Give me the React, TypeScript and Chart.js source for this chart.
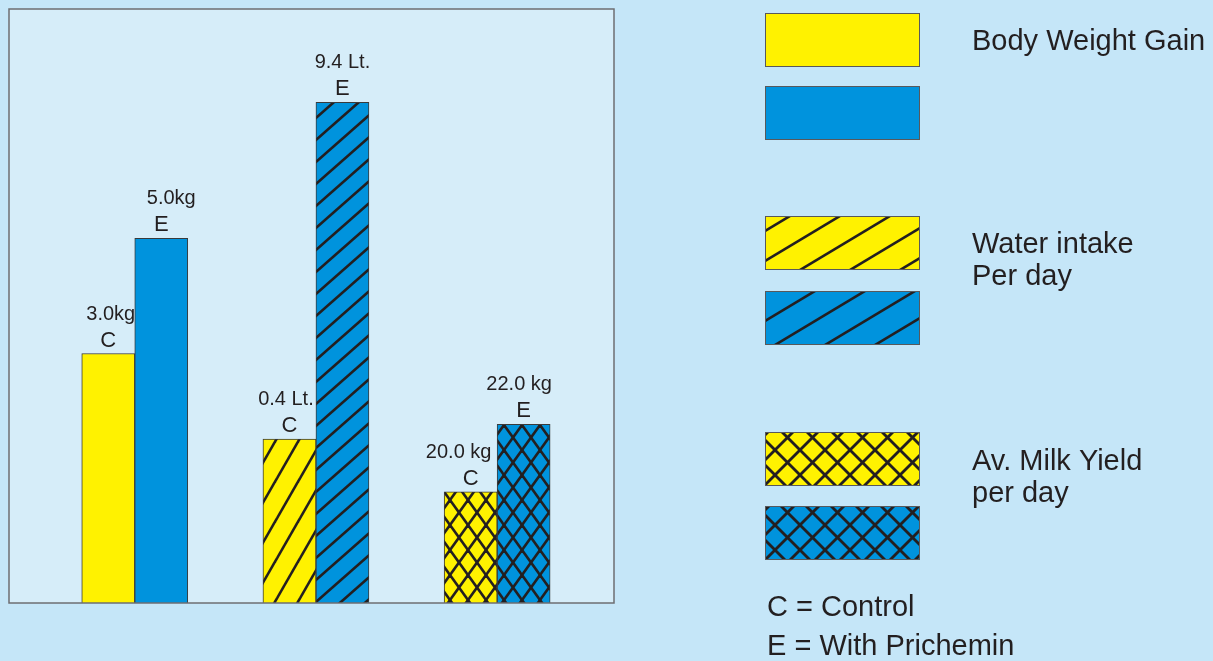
import React, { useEffect, useRef } from "react";
import { Chart, registerables } from "chart.js";

Chart.register(...registerables);

// ---- data (bar heights are the illustrative heights of the picture, in % of plot height)
const groups = ["Body Weight Gain", "Water intake", "Av. Milk Yield"];
const groupPositions = [0, 1, 2];
const controlHeights = [42.0, 27.6, 18.7];
const prichHeights = [61.4, 84.3, 30.1];
const controlValueLabels = ["3.0kg", "0.4 Lt.", "20.0 kg"];
const prichValueLabels = ["5.0kg", "9.4 Lt.", "22.0 kg"];
const seriesLetters = ["C", "E"];
const legendTexts = [["Body Weight Gain"], ["Water intake", "Per day"], ["Av. Milk Yield", "per day"]];
const keyTexts = ["C = Control", "E = With Prichemin"];

const YELLOW = "#fff200";
const BLUE = "#0093dd";
const INK = "#231f20";
const FIG_BG = "#c5e6f8";
const PLOT_BG = "#d6edf9";
const FRAME = "#6d6e71";
const FONT = "'Liberation Sans', Arial, sans-serif";

function makePattern(bg: string, w: number, h: number, cross: boolean, lw: number): CanvasPattern {
  const c = document.createElement("canvas");
  c.width = w;
  c.height = h;
  const g = c.getContext("2d")!;
  g.fillStyle = bg;
  g.fillRect(0, 0, w, h);
  g.strokeStyle = INK;
  g.lineWidth = lw;
  for (const s of [-w, 0, w]) {
    g.beginPath();
    g.moveTo(-w + s, 2 * h);
    g.lineTo(2 * w + s, -h);
    g.stroke();
    if (cross) {
      g.beginPath();
      g.moveTo(-w + s, -h);
      g.lineTo(2 * w + s, 2 * h);
      g.stroke();
    }
  }
  const ctx = document.createElement("canvas").getContext("2d")!;
  return ctx.createPattern(c, "repeat")!;
}

export default function App() {
  const ref = useRef<HTMLCanvasElement | null>(null);

  useEffect(() => {
    const canvas = ref.current;
    if (!canvas) return;

    const yHatch = makePattern(YELLOW, 23, 40, false, 2.6);
    const bHatch = makePattern(BLUE, 25, 22, false, 2.6);
    const yCross = makePattern(YELLOW, 18, 25, true, 2.6);
    const bCross = makePattern(BLUE, 18, 25, true, 2.6);
    const yLegHatch = makePattern(YELLOW, 50, 30, false, 2.6);
    const bLegHatch = makePattern(BLUE, 50, 30, false, 2.6);
    const yLegCross = makePattern(YELLOW, 25, 25, true, 2.8);
    const bLegCross = makePattern(BLUE, 25, 25, true, 2.8);

    const valueLabels = [controlValueLabels, prichValueLabels];
    const valueShift = [
      [2.5, -3.5, -12],
      [10, 0, -4.5],
    ];

    const framePlugin = {
      id: "frame",
      beforeDraw(chart: any) {
        const { ctx, chartArea: a } = chart;
        ctx.save();
        ctx.fillStyle = FIG_BG;
        ctx.fillRect(0, 0, chart.width, chart.height);
        ctx.fillStyle = PLOT_BG;
        ctx.fillRect(a.left, a.top, a.right - a.left, a.bottom - a.top);
        ctx.restore();
      },
      afterDatasetsDraw(chart: any) {
        const { ctx, chartArea: a } = chart;
        ctx.save();
        chart.data.datasets.forEach((ds: any, di: number) => {
          const meta = chart.getDatasetMeta(di);
          meta.data.forEach((el: any, i: number) => {
            ctx.fillStyle = INK;
            ctx.textAlign = "center";
            ctx.textBaseline = "alphabetic";
            ctx.font = `22px ${FONT}`;
            ctx.fillText(seriesLetters[di], el.x, el.y - 7);
            ctx.font = `20px ${FONT}`;
            ctx.fillText(valueLabels[di][i], el.x + valueShift[di][i], el.y - 34);
          });
        });
        ctx.strokeStyle = FRAME;
        ctx.lineWidth = 1.5;
        ctx.strokeRect(a.left, a.top, a.right - a.left, a.bottom - a.top);

        // legend
        const boxes = [
          [13, YELLOW, 86, BLUE],
          [216, yLegHatch, 291, bLegHatch],
          [432, yLegCross, 506, bLegCross],
        ];
        const textY = [[50], [253, 285], [470, 502]];
        boxes.forEach((b: any, k: number) => {
          for (const [y, fill] of [[b[0], b[1]], [b[2], b[3]]] as any) {
            ctx.fillStyle = fill;
            ctx.fillRect(765, y, 154, 53);
            ctx.strokeStyle = "#58595b";
            ctx.lineWidth = 1;
            ctx.strokeRect(765.5, y + 0.5, 154, 53);
          }
          ctx.fillStyle = INK;
          ctx.textAlign = "left";
          ctx.font = `29px ${FONT}`;
          legendTexts[k].forEach((t, j) => ctx.fillText(t, 972, textY[k][j]));
        });
        ctx.font = `29px ${FONT}`;
        ctx.fillText(keyTexts[0], 767, 616);
        ctx.fillText(keyTexts[1], 767, 655);
        ctx.restore();
      },
    };

    const chart = new Chart(canvas, {
      type: "bar",
      data: {
        labels: groups,
        datasets: [
          {
            label: "Control",
            data: groupPositions.map((x, i) => ({ x, y: controlHeights[i] })),
            backgroundColor: [YELLOW, yHatch, yCross],
            borderColor: "#3a3a3a",
            borderWidth: 1,
            barThickness: 53,
          },
          {
            label: "With Prichemin",
            data: groupPositions.map((x, i) => ({ x, y: prichHeights[i] })),
            backgroundColor: [BLUE, bHatch, bCross],
            borderColor: "#3a3a3a",
            borderWidth: 1,
            barThickness: 53,
          },
        ],
      } as any,
      options: {
        animation: false,
        responsive: false,
        devicePixelRatio: 1,
        layout: { padding: { left: 9, top: 9, right: 599, bottom: 58 } },
        scales: {
          x: { type: "linear", min: -0.694, max: 2.645, display: false, offset: false },
          y: { min: 0, max: 100, display: false },
        },
        plugins: { legend: { display: false }, tooltip: { enabled: false } },
      },
      plugins: [framePlugin],
    });

    return () => chart.destroy();
  }, []);

  return (
    <div
      style={{
        position: "fixed",
        left: 0,
        top: 0,
        width: 1213,
        height: 661,
        background: FIG_BG,
      }}
    >
      <canvas ref={ref} width={1213} height={661} style={{ display: "block" }} />
    </div>
  );
}
